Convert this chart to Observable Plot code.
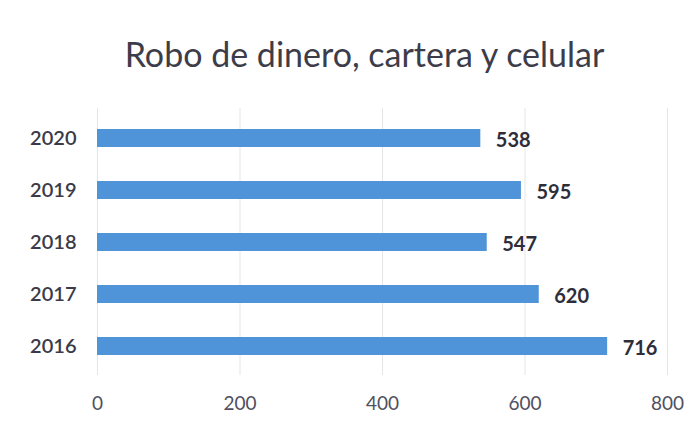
<!DOCTYPE html>
<html>
<head>
<meta charset="utf-8">
<script src="https://cdn.jsdelivr.net/npm/d3@7"></script>
<script src="https://cdn.jsdelivr.net/npm/@observablehq/plot@0.6"></script>
<style>
  html, body { margin: 0; padding: 0; background: #ffffff; }
  #wrap { width: 699px; height: 438px; position: relative; overflow: hidden; font-family: Lato, "Open Sans", sans-serif; }
  #title { position: absolute; left: 0; top: 37px; width: 699px; text-align: center; padding-left: 30px; box-sizing: border-box;
           font-size: 34px; color: #3d3d4a; line-height: 1; }
  #chart { position: absolute; left: 0; top: 90px; }
</style>
</head>
<body>
<div id="wrap">
  <div id="title">Robo de dinero, cartera y celular</div>
  <div id="chart"></div>
</div>
<script>
const years = ["2020", "2019", "2018", "2017", "2016"];
const values = [538, 595, 547, 620, 716];
const xTicks = [0, 200, 400, 600, 800];

const data = years.map((y, i) => ({year: y, value: values[i]}));

const plot = Plot.plot({
  width: 699,
  height: 348,
  marginLeft: 97,
  marginRight: 32,
  marginTop: 18,
  marginBottom: 63,
  style: {fontFamily: "Lato, 'Open Sans', sans-serif", background: "transparent"},
  x: {domain: [0, 800], ticks: xTicks, grid: true, label: null},
  y: {domain: years, paddingInner: 0.66, paddingOuter: 0.35, label: null},
  marks: [
    Plot.gridX(xTicks, {stroke: "#dcdce6", strokeOpacity: 1, y1: 18, y2: 285}),
    Plot.axisX({ticks: xTicks, tickSize: 0, tickPadding: 21, fontSize: 19, fill: "#50505e", label: null}),
    Plot.axisY({tickSize: 0, tickPadding: 21, fontSize: 20, fontWeight: 600, fill: "#3a3a48", label: null}),
    Plot.barX(data, {x: "value", y: "year", fill: "#4f93d8"}),
    Plot.text(data, {x: "value", y: "year", text: d => String(d.value), textAnchor: "start", dx: 15, dy: 2,
      fontSize: 20, fontWeight: "bold", fill: "#2e2e3a"})
  ]
});
document.getElementById("chart").appendChild(plot);
</script>
</body>
</html>
